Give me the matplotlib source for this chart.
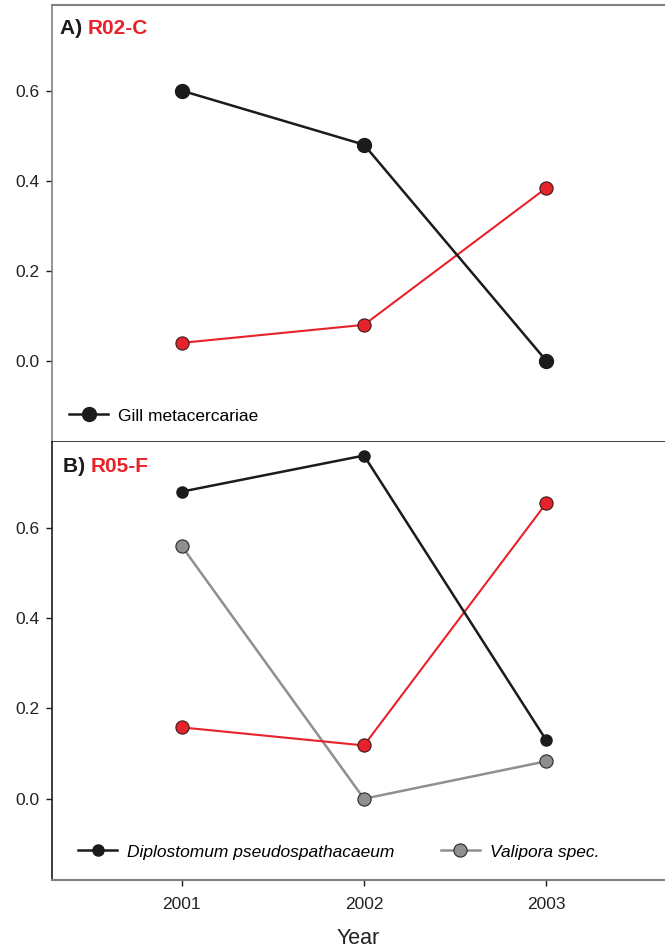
import numpy as np
import matplotlib.pyplot as plt

plt.rcParams['font.family'] = ['Liberation Sans', 'DejaVu Sans']

years = [2001, 2002, 2003]

# panel A (R02-C)
gill_a = [0.60, 0.48, 0.0]
red_a = [0.04, 0.08, 0.384]

# panel B (R05-F)
diplo_b = [0.68, 0.76, 0.129]
red_b = [0.158, 0.118, 0.655]
vali_b = [0.56, 0.0, 0.083]

BLACK = '#1c1a1b'
RED = '#e8222a'
GREY = '#8f8f8f'
SPINE_GREY = '#808080'

fig = plt.figure(figsize=(6.65, 9.51), dpi=100)
ax1 = fig.add_axes([52 / 665, 1 - 442 / 951, 613 / 665, 437 / 951])
ax2 = fig.add_axes([52 / 665, 1 - 880 / 951, 613 / 665, 438 / 951])

for ax in (ax1, ax2):
    ax.set_xlim(2000.29, 2003.65)
    ax.set_ylim(-0.18, 0.79)
    ax.set_yticks([0.0, 0.2, 0.4, 0.6])
    ax.set_yticklabels(['0.0', '0.2', '0.4', '0.6'])
    ax.spines['right'].set_visible(False)
    ax.tick_params(axis='y', direction='out', length=4, width=1, color=BLACK,
                   labelsize=12.5, pad=5, labelcolor='#222222')
    ax.tick_params(axis='x', direction='out', length=4, width=1, color=BLACK,
                   labelsize=12.5, pad=8, labelcolor='#222222')

# top panel
ax1.plot(years, red_a, '-o', color=RED, lw=1.5, ms=9.5, mfc=RED, mec='#3a1a1a', mew=0.8, zorder=3)
ax1.plot(years, gill_a, '-o', color=BLACK, lw=1.8, ms=10, mfc=BLACK, mec=BLACK,
         label='Gill metacercariae', zorder=4)
ax1.set_xticks([])
ax1.spines['left'].set_color(SPINE_GREY)
ax1.spines['top'].set_color(SPINE_GREY)
ax1.spines['top'].set_linewidth(1.5)
ax1.spines['bottom'].set_color(BLACK)
ax1.spines['bottom'].set_linewidth(1.2)
ax1.spines['left'].set_linewidth(1.2)

ax1.legend(loc='center left', bbox_to_anchor=(0.0277, 0.0595), frameon=False,
           fontsize=12.5, handlelength=2.25, handletextpad=0.57,
           borderaxespad=0, borderpad=0)

# bottom panel
ax2.plot(years, vali_b, '-o', color=GREY, lw=1.8, ms=9.5, mfc=GREY, mec='#2a2a2a', mew=0.8,
         label='Valipora spec.', zorder=3)
ax2.plot(years, red_b, '-o', color=RED, lw=1.5, ms=9.5, mfc=RED, mec='#3a1a1a', mew=0.8, zorder=3)
ax2.plot(years, diplo_b, '-o', color=BLACK, lw=1.8, ms=8, mfc=BLACK, mec=BLACK,
         label='Diplostomum pseudospathacaeum', zorder=4)
ax2.set_xticks(years)
ax2.set_xticklabels([str(y) for y in years])
ax2.spines['top'].set_visible(False)
ax2.spines['left'].set_color(BLACK)
ax2.spines['left'].set_linewidth(1.2)
ax2.spines['bottom'].set_color(SPINE_GREY)
ax2.spines['bottom'].set_linewidth(1.5)
ax2.set_xlabel('Year', fontsize=15.5, labelpad=12, color='#222222')

h, l = ax2.get_legend_handles_labels()
ax2.legend([h[1], h[0]], [l[1], l[0]], loc='center left', bbox_to_anchor=(0.0424, 0.064),
           frameon=False, ncol=2, handlelength=2.25, handletextpad=0.6,
           columnspacing=2.65, borderaxespad=0, borderpad=0,
           prop={'style': 'italic', 'size': 12.5})

# panel titles
t1 = ax1.text(0.013, 0.934, 'A) ', transform=ax1.transAxes, fontsize=15,
              fontweight='bold', color=BLACK, va='baseline')
ax1.annotate('R02-C', xy=(1, 0), xycoords=t1, fontsize=15, fontweight='bold',
             color=RED, va='bottom')
t2 = ax2.text(0.018, 0.932, 'B) ', transform=ax2.transAxes, fontsize=15,
              fontweight='bold', color=BLACK, va='baseline')
ax2.annotate('R05-F', xy=(1, 0), xycoords=t2, fontsize=15, fontweight='bold',
             color=RED, va='bottom')

fig.savefig('out.png', dpi=100)
